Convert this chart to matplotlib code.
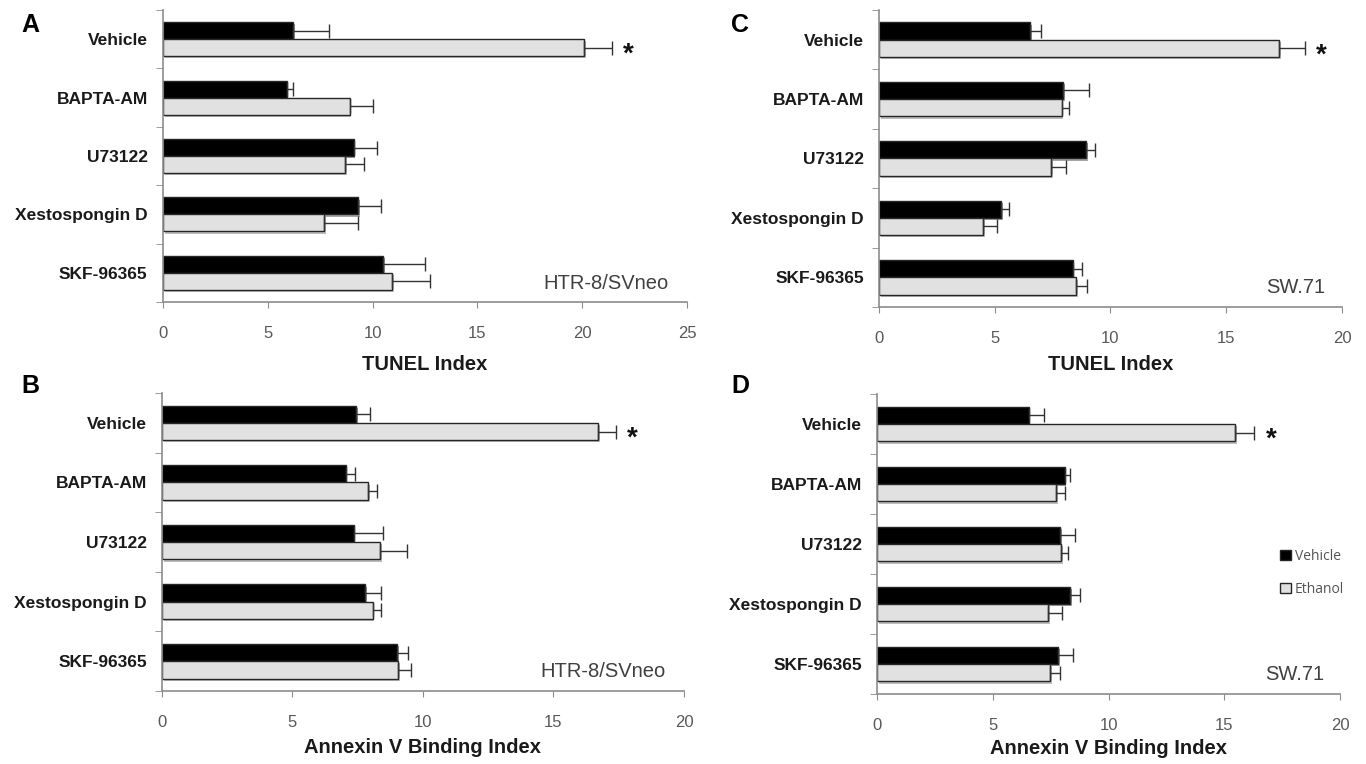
import numpy as np
import matplotlib
matplotlib.use("Agg")
import matplotlib.pyplot as plt
import matplotlib.patheffects as pe
from matplotlib.patches import Patch

plt.rcParams['font.family'] = ['Liberation Sans', 'DejaVu Sans']

treatments = ['Vehicle', 'BAPTA-AM', 'U73122', 'Xestospongin D', 'SKF-96365']
groups = ['Vehicle', 'Ethanol']

# panel A: TUNEL, HTR-8/SVneo
tunel_htr_veh = [6.2, 5.9, 9.1, 9.3, 10.5]
tunel_htr_veh_err = [1.7, 0.3, 1.1, 1.1, 2.0]
tunel_htr_eth = [20.1, 8.9, 8.7, 7.7, 10.95]
tunel_htr_eth_err = [1.3, 1.1, 0.9, 1.6, 1.8]

# panel B: Annexin V, HTR-8/SVneo
annex_htr_veh = [7.43, 7.04, 7.35, 7.78, 9.01]
annex_htr_veh_err = [0.55, 0.34, 1.1, 0.6, 0.43]
annex_htr_eth = [16.7, 7.9, 8.36, 8.07, 9.06]
annex_htr_eth_err = [0.7, 0.34, 1.04, 0.31, 0.5]

# panel C: TUNEL, SW.71
tunel_sw_veh = [6.54, 7.96, 8.95, 5.27, 8.36]
tunel_sw_veh_err = [0.46, 1.1, 0.4, 0.33, 0.4]
tunel_sw_eth = [17.3, 7.89, 7.45, 4.51, 8.53]
tunel_sw_eth_err = [1.1, 0.31, 0.63, 0.57, 0.47]

# panel D: Annexin V, SW.71
annex_sw_veh = [6.55, 8.11, 7.92, 8.33, 7.83]
annex_sw_veh_err = [0.65, 0.22, 0.62, 0.46, 0.62]
annex_sw_eth = [15.48, 7.73, 7.96, 7.39, 7.47]
annex_sw_eth_err = [0.82, 0.38, 0.3, 0.59, 0.45]

panels = [
    # letter, rect, data, xmax, xlabel, xlabel y, cell line, letter pos
    ('A', [0.1193, 0.6047, 0.3836, 0.3822], tunel_htr_veh, tunel_htr_veh_err,
     tunel_htr_eth, tunel_htr_eth_err, 25, 'TUNEL Index', -0.215, 'HTR-8/SVneo', (0.022, 0.967)),
    ('C', [0.6435, 0.5982, 0.3389, 0.3887], tunel_sw_veh, tunel_sw_veh_err,
     tunel_sw_eth, tunel_sw_eth_err, 20, 'TUNEL Index', -0.195, 'SW.71', (0.542, 0.967)),
    ('B', [0.1186, 0.0955, 0.3821, 0.3900], annex_htr_veh, annex_htr_veh_err,
     annex_htr_eth, annex_htr_eth_err, 20, 'Annexin V Binding Index', -0.19, 'HTR-8/SVneo', (0.022, 0.495)),
    ('D', [0.6420, 0.0916, 0.3390, 0.3927], annex_sw_veh, annex_sw_veh_err,
     annex_sw_eth, annex_sw_eth_err, 20, 'Annexin V Binding Index', -0.183, 'SW.71', (0.542, 0.495)),
]

black = '#000000'
grey = '#e1e1e1'
edge = '#262626'
axis_col = '#8c8c8c'
text_col = '#595959'
h = 0.29

fig = plt.figure(figsize=(13.66, 7.64), dpi=100)

for letter, rect, veh, veh_err, eth, eth_err, xmax, xlabel, xly, cell, lpos in panels:
    ax = fig.add_axes(rect)
    y = np.arange(len(treatments))
    shadow = [pe.SimplePatchShadow(offset=(1.2, -1.6), alpha=0.35), pe.Normal()]
    b1 = ax.barh(y - h / 2, veh, height=h, color=black, edgecolor=edge, linewidth=1,
                 xerr=[np.zeros(len(veh)), veh_err],
                 error_kw=dict(ecolor='#333333', elinewidth=1, capsize=5, capthick=1))
    b2 = ax.barh(y + h / 2, eth, height=h, color=grey, edgecolor=edge, linewidth=1,
                 xerr=[np.zeros(len(eth)), eth_err],
                 error_kw=dict(ecolor='#333333', elinewidth=1, capsize=5, capthick=1))
    for p in list(b1) + list(b2):
        p.set_path_effects(shadow)

    # significance mark on ethanol/vehicle bar
    ax.annotate('*', xy=(eth[0] + eth_err[0], h / 2), xytext=(12, -5),
                textcoords='offset points', ha='center', va='center',
                fontsize=20, fontweight='bold', color='#111111')

    ax.set_xlim(0, xmax)
    ax.set_ylim(len(treatments) - 0.5, -0.5)
    ax.set_xticks(np.arange(0, xmax + 1, 5))
    ax.set_yticks(y)
    ax.set_yticklabels(treatments, fontsize=12.5, fontweight='bold', color='#1a1a1a')
    ax.set_yticks(np.arange(-0.5, len(treatments)), minor=True)
    ax.tick_params(axis='y', which='major', length=0, pad=11)
    ax.tick_params(axis='y', which='minor', length=5, color=axis_col, direction='out')
    ax.tick_params(axis='x', which='major', length=4, color=axis_col, direction='out',
                   labelsize=12, labelcolor=text_col, pad=13)
    for s in ['top', 'right']:
        ax.spines[s].set_visible(False)
    for s in ['left', 'bottom']:
        ax.spines[s].set_color(axis_col)
        ax.spines[s].set_linewidth(1.2)

    ax.set_xlabel(xlabel, fontsize=14.5, fontweight='bold', color='#1a1a1a')
    ax.xaxis.set_label_coords(0.5, xly)
    ax.xaxis.label.set_va('center')

    ax.text(0.965, 0.065, cell, transform=ax.transAxes, ha='right', va='center',
            fontsize=14.5, color='#404040')
    fig.text(lpos[0], lpos[1], letter, fontsize=18, fontweight='bold', ha='center', va='center')

handles = [Patch(facecolor=black, edgecolor=edge, linewidth=1),
           Patch(facecolor=grey, edgecolor=edge, linewidth=1)]
fig.legend(handles, groups, loc='upper left', bbox_to_anchor=(0.928, 0.298),
           frameon=False, handlelength=0.75, handleheight=0.75, handletextpad=0.3,
           labelspacing=1.3, prop={'family': 'Open Sans', 'size': 10}, labelcolor='#555555')

fig.savefig('out.png', dpi=100)
